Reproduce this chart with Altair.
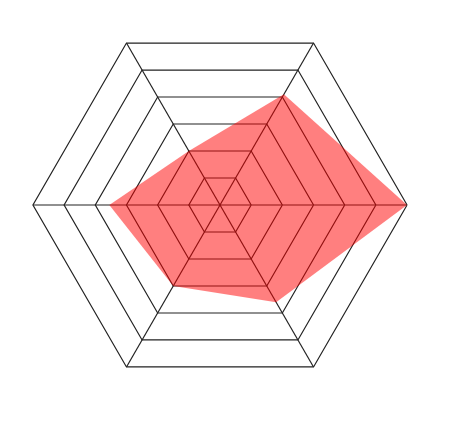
import altair as alt
import pandas as pd

# Radar chart data (6 axes, starting at the right and going counter-clockwise)
axes = ["A", "B", "C", "D", "E", "F"]
values = [6.0, 4.1, 2.0, 3.55, 3.0, 3.6]
levels = [1, 2, 3, 4, 5, 6]
max_level = 6

n = len(axes)
poly = pd.DataFrame({"idx": list(range(n + 1)), "value": values + values[:1]})
grid = pd.DataFrame([{"level": l, "idx": i} for l in levels for i in range(n + 1)])
spokes = pd.DataFrame({"idx": list(range(n)), "r": [max_level] * n})

x_scale = alt.Scale(domain=[-6.8, 6.8], nice=False, zero=False)
y_scale = alt.Scale(domain=[-6.32, 6.32], nice=False, zero=False)
ang = f"datum.idx * 2 * PI / {n}"

grid_layer = (
    alt.Chart(grid)
    .transform_calculate(a=ang)
    .transform_calculate(x="datum.level * cos(datum.a)", y="datum.level * sin(datum.a)")
    .mark_line(color="#222222", strokeWidth=1.2)
    .encode(
        x=alt.X("x:Q", scale=x_scale, axis=None),
        y=alt.Y("y:Q", scale=y_scale, axis=None),
        detail="level:N",
        order="idx:Q",
    )
)

spoke_layer = (
    alt.Chart(spokes)
    .transform_calculate(a=ang)
    .transform_calculate(
        x0="0", y0="0",
        x="datum.r * cos(datum.a)", y="datum.r * sin(datum.a)",
    )
    .mark_rule(color="#222222", strokeWidth=1.2)
    .encode(
        x=alt.X("x0:Q", scale=x_scale, axis=None),
        y=alt.Y("y0:Q", scale=y_scale, axis=None),
        x2="x:Q",
        y2="y:Q",
    )
)

poly_layer = (
    alt.Chart(poly)
    .transform_calculate(a=ang)
    .transform_calculate(x="datum.value * cos(datum.a)", y="datum.value * sin(datum.a)")
    .mark_line(filled=True, color="red", fillOpacity=0.5, strokeWidth=0)
    .encode(
        x=alt.X("x:Q", scale=x_scale, axis=None),
        y=alt.Y("y:Q", scale=y_scale, axis=None),
        order="idx:Q",
    )
)

chart = (
    alt.layer(grid_layer, spoke_layer, poly_layer)
    .properties(width=424, height=394, padding=0)
    .configure_view(stroke=None)
)

chart.save("out.html", embed_options={"renderer": "svg", "actions": False})
